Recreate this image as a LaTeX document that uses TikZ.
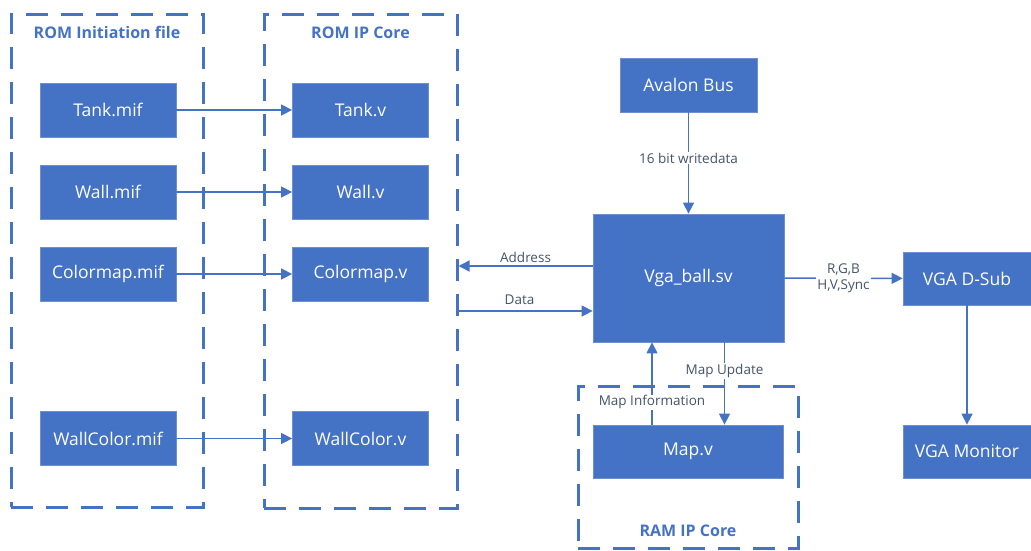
\documentclass[tikz,border=0pt]{standalone}
\usepackage{fontspec}
\setmainfont{Open Sans}
\usetikzlibrary{arrows.meta,positioning}
\definecolor{blkBlue}{HTML}{4472C4}
\definecolor{blkEdge}{HTML}{6F8FD0}
\definecolor{lblInk}{HTML}{44546A}
\tikzset{
  every node/.style={font=\fontsize{17.5}{20}\selectfont},
  block/.style={
    fill=blkBlue,
    draw=blkEdge,
    line width=0.8pt,
    text=white,
    inner sep=0pt
  },
  fileblock/.style={block, minimum width=136pt, minimum height=54pt},
  group/.style={
    draw=blkBlue,
    line width=3pt,
    dash pattern=on 22pt off 13pt,
    inner sep=0pt
  },
  grouptitle/.style={font=\fontsize{16}{19}\selectfont\bfseries, text=blkBlue},
  siglabel/.style={font=\fontsize{13.5}{16}\selectfont, text=lblInk, fill=white, inner sep=1pt},
  link/.style={
    -{Triangle[length=11pt,width=11pt]},
    line width=1.5pt,
    draw=blkBlue
  }
}

\begin{document}
\begin{tikzpicture}[x=1pt, y=-1pt]
  \useasboundingbox (0,0) rectangle (1031,550);

  \node[group, minimum width=192pt, minimum height=493pt] (rominit) at (107,260.5) {};
  \node[group, minimum width=193pt, minimum height=494pt] (romcore) at (360.5,261) {};
  \node[group, minimum width=220pt, minimum height=162pt] (ramcore) at (688,467) {};
  \node[grouptitle] (rominittitle) at (107,32) {ROM Initiation file};
  \node[grouptitle] (romcoretitle) at (360.5,33) {ROM IP Core};
  \node[grouptitle] (ramcoretitle) at (688,531) {RAM IP Core};

  \node[fileblock] (tankmif) at (108,110) {Tank.mif};
  \node[fileblock] (wallmif) at (108,192) {Wall.mif};
  \node[fileblock] (cmapmif) at (108,274) {Colormap.mif};
  \node[fileblock] (wcolmif) at (108,438.5) {WallColor.mif};

  \node[fileblock] (tankv) at (360.5,110) {Tank.v};
  \node[fileblock] (wallv) at (360.5,192) {Wall.v};
  \node[fileblock] (cmapv) at (360.5,274) {Colormap.v};
  \node[fileblock] (wcolv) at (360.5,438.5) {WallColor.v};

  \draw[link] (tankmif) -- (tankv);
  \draw[link] (wallmif) -- (wallv);
  \draw[link] (cmapmif) -- (cmapv);
  \draw[link] (wcolmif) -- (wcolv);

  \node[block, minimum width=137pt, minimum height=54pt] (avalon) at (688.5,85) {Avalon Bus};
  \node[block, minimum width=191pt, minimum height=128pt] (vga) at (688.5,278) {Vga\_ball.sv};
  \node[block, minimum width=190pt, minimum height=53pt] (mapv) at (688,451.5) {Map.v};
  \node[block, minimum width=128pt, minimum height=53pt] (dsub) at (967,278.5) {VGA D-Sub};
  \node[block, minimum width=128pt, minimum height=53pt] (monitor) at (967,451.5) {VGA Monitor};

  \draw[link] (avalon) -- (vga) node[siglabel, pos=0.45] {16 bit writedata};
  \draw[link] ([yshift=12pt]vga.west) -- ([yshift=12pt]vga.west -| romcore.east)
    node[siglabel, fill=none, midway, above=2pt] {Address};
  \draw[link] ([yshift=-33pt]vga.west -| romcore.east) -- ([yshift=-33pt]vga.west)
    node[siglabel, fill=none, midway, above=5pt, xshift=-6pt] {Data};
  \draw[link] (vga) -- (dsub) node[siglabel, midway, align=center] {R,G,B\\H,V,Sync};
  \draw[link] (dsub) -- (monitor);
  \draw[link] ([xshift=-36pt]mapv.north) -- ([xshift=-36pt]mapv.north |- vga.south)
    node[siglabel, pos=0.27] {Map Information};
  \draw[link] ([xshift=36pt]vga.south) -- ([xshift=36pt]vga.south |- mapv.north)
    node[siglabel, pos=0.35] {Map Update};
\end{tikzpicture}
\end{document}
